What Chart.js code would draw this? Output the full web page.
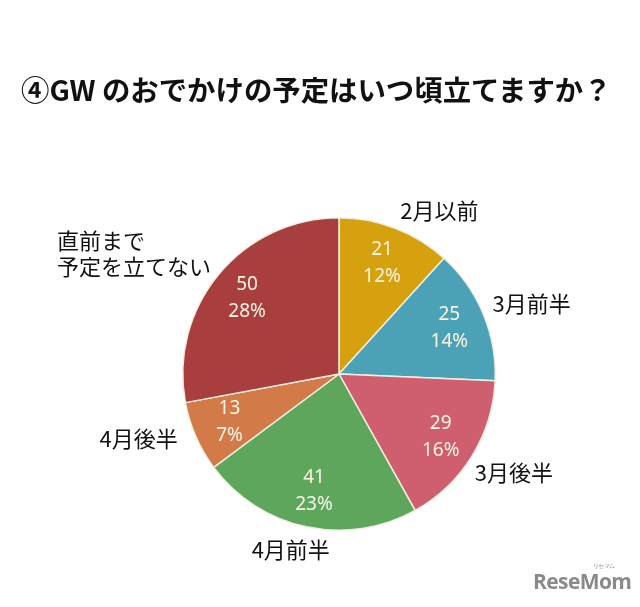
<!DOCTYPE html>
<html>
<head>
<meta charset="utf-8">
<script src="https://cdn.jsdelivr.net/npm/chart.js@4"></script>
<style>
  body { margin: 0; background: #fff; }
  #wrap { position: relative; width: 640px; height: 607px; overflow: hidden; }
  #title {
    position: absolute; left: 21px; top: 68px;
    font: bold 28.4px "Noto Sans CJK JP", sans-serif; color: #111; white-space: nowrap;
  }
  #mark {
    position: absolute; left: 533px; top: 567px;
    font: bold 21px "Open Sans", sans-serif; color: #8a8a8a; letter-spacing: -0.6px;
  }
  #mark small { position: absolute; left: 60px; top: -5px; font-size: 6px; font-weight: normal; }
</style>
</head>
<body>
<div id="wrap">
  <canvas id="pie" width="640" height="607"></canvas>
  <div id="title">④GW のおでかけの予定はいつ頃立てますか？</div>
  <div id="mark">ReseMom<small>リセマム</small></div>
</div>
<script>
var categories = ["2月以前", "3月前半", "3月後半", "4月前半", "4月後半", "直前まで\n予定を立てない"];
var counts = [21, 25, 29, 41, 13, 50];
var percents = ["12%", "14%", "16%", "23%", "7%", "28%"];
var colors = ["#d5a10f", "#4ba1b6", "#cf5e6f", "#5ea65c", "#d27a48", "#a83e3e"];
// small hand nudges for the outside labels [dx, dy]
var outerNudge = [[-3, 3], [-11, -2], [-16, 5], [-11, 1], [2, -7], [9, -6]];

var sliceLabels = {
  id: "sliceLabels",
  afterDatasetsDraw: function(chart) {
    var ctx = chart.ctx;
    var arcs = chart.getDatasetMeta(0).data;
    ctx.save();
    arcs.forEach(function(arc, i) {
      var mid = (arc.startAngle + arc.endAngle) / 2;
      var r = arc.outerRadius;
      var cos = Math.cos(mid), sin = Math.sin(mid);

      // value + percent inside
      var ix = arc.x + cos * r * 0.765;
      var iy = arc.y + sin * r * 0.765;
      ctx.fillStyle = "#fbf6e6";
      ctx.font = "19px 'Noto Sans', sans-serif";
      ctx.textAlign = "center";
      ctx.textBaseline = "middle";
      ctx.fillText(String(counts[i]), ix, iy - 13);
      ctx.fillText(percents[i], ix, iy + 14);

      // category outside
      var lines = categories[i].split("\n");
      ctx.font = "22px 'Noto Sans CJK JP', sans-serif";
      ctx.fillStyle = "#111";
      var ox = arc.x + cos * (r + 22) + outerNudge[i][0];
      var oy = arc.y + sin * (r + 22) + outerNudge[i][1];
      var w = Math.max.apply(null, lines.map(function(l) { return ctx.measureText(l).width; }));
      var left;
      if (Math.abs(cos) < 0.3) left = ox - w / 2;
      else if (cos > 0) left = ox;
      else left = ox - w;
      var lh = 26;
      var top = oy - (lines.length - 1) * lh / 2;
      ctx.textAlign = "left";
      lines.forEach(function(l, k) {
        var lw = ctx.measureText(l).width;
        var lx = lines.length > 1 ? left : left + (w - lw) / 2;
        ctx.fillText(l, lx, top + k * lh);
      });
    });
    ctx.restore();
  }
};

new Chart(document.getElementById("pie"), {
  type: "pie",
  data: {
    labels: categories,
    datasets: [{
      data: counts,
      backgroundColor: colors,
      borderColor: "#f2efe2",
      borderWidth: 1.5
    }]
  },
  options: {
    responsive: false,
    animation: false,
    layout: { padding: { top: 217, bottom: 76, left: 182, right: 144 } },
    plugins: {
      legend: { display: false },
      tooltip: { enabled: false }
    }
  },
  plugins: [sliceLabels]
});
</script>
</body>
</html>
